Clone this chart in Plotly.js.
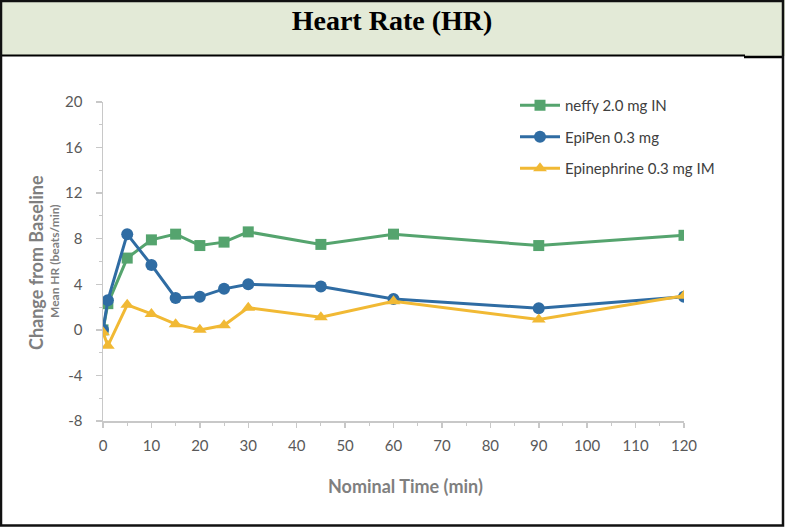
<!DOCTYPE html>
<html>
<head>
<meta charset="utf-8">
<script src="https://cdn.plot.ly/plotly-3.0.1.min.js"></script>
<style>
html,body{margin:0;padding:0;background:#fff;}
#chart{width:785px;height:528px;}
</style>
</head>
<body>
<div id="chart"></div>
<script>
const times = [0, 1, 5, 10, 15, 20, 25, 30, 45, 60, 90, 120];
const neffy = [0, 2.3, 6.3, 7.9, 8.4, 7.4, 7.7, 8.6, 7.5, 8.4, 7.4, 8.3];
const epipen = [0, 2.6, 8.4, 5.7, 2.8, 2.9, 3.6, 4.0, 3.8, 2.7, 1.9, 2.9];
const epiIM = [-0.2, -1.4, 2.2, 1.4, 0.5, 0.0, 0.4, 1.95, 1.1, 2.5, 0.9, 3.0];
const seriesNames = ["neffy 2.0 mg IN", "EpiPen 0.3 mg", "Epinephrine 0.3 mg IM"];
const yTicks = [-8, -4, 0, 4, 8, 12, 16, 20];
const xTicks = [0, 10, 20, 30, 40, 50, 60, 70, 80, 90, 100, 110, 120];

const W = 785, H = 528;
const M = {l: 103, r: 101, t: 102, b: 107};
const pw = W - M.l - M.r, ph = H - M.t - M.b;
const px = v => (v - M.l) / pw;
const py = v => (H - M.b - v) / ph;

const green = "#55a46e", blue = "#2f6ca3", yellow = "#f1b934";
const sans = "Lato, 'Open Sans', sans-serif";
const tickFont = {family: sans, size: 15, color: "#595959"};
const axisTitleColor = "#7f7f7f";

const traces = [
  {x: times, y: neffy, name: seriesNames[0], legendgroup: "a", mode: "lines+markers",
   line: {color: green, width: 3}, marker: {symbol: "square", size: 11, color: green}},
  {x: times, y: epipen, name: seriesNames[1], legendgroup: "b", mode: "lines+markers",
   line: {color: blue, width: 3}, marker: {symbol: "circle", size: 12, color: blue}},
  {x: times, y: epiIM, name: seriesNames[2], legendgroup: "c", mode: "lines+markers",
   line: {color: yellow, width: 3}, marker: {symbol: "triangle-up", size: 12, color: yellow}}
];

const layout = {
  width: W, height: H,
  margin: {l: M.l, r: M.r, t: M.t, b: M.b},
  paper_bgcolor: "#ffffff", plot_bgcolor: "#ffffff",
  showlegend: true,
  legend: {x: px(515), y: py(89), xanchor: "left", yanchor: "top",
           font: {family: sans, size: 15, color: "#404040"},
           bgcolor: "rgba(0,0,0,0)", traceorder: "grouped", tracegroupgap: 9, itemwidth: 40},
  title: {text: "<b>Heart Rate (HR)</b>", x: px(392), xref: "paper", xanchor: "center",
          y: 1 - 20 / H, yref: "container", yanchor: "middle",
          font: {family: "'Liberation Serif', 'Times New Roman', serif", size: 28, color: "#000"}},
  xaxis: {range: [0, 120], tickvals: xTicks, ticktext: xTicks.map(String),
          showgrid: false, zeroline: false, showline: true, linecolor: "#c8c8c8", linewidth: 1.5,
          ticks: "outside", ticklen: 5, tickcolor: "#c8c8c8", tickwidth: 1.5,
          minor: {dtick: 5, ticks: "outside", ticklen: 3, tickcolor: "#c8c8c8", tickwidth: 1},
          tickfont: tickFont, ticklabelstandoff: 5},
  yaxis: {range: [-8, 20], tickvals: yTicks, ticktext: yTicks.map(String),
          showgrid: false, zeroline: false, showline: true, linecolor: "#c8c8c8", linewidth: 1.5,
          ticks: "outside", ticklen: 6, tickcolor: "#c8c8c8", tickwidth: 1.5,
          minor: {dtick: 2, ticks: "outside", ticklen: 3, tickcolor: "#c8c8c8", tickwidth: 1},
          tickfont: tickFont, ticklabelstandoff: 10},
  annotations: [
    {text: "<b>Change from Baseline</b>", xref: "paper", yref: "paper", x: px(36), y: py(263),
     xanchor: "center", yanchor: "middle", textangle: -90, showarrow: false,
     font: {family: sans, size: 18, color: axisTitleColor}},
    {text: "<b>Mean HR (beats/min)</b>", xref: "paper", yref: "paper", x: px(54), y: py(261),
     xanchor: "center", yanchor: "middle", textangle: -90, showarrow: false,
     font: {family: sans, size: 12, color: axisTitleColor}},
    {text: "<b>Nominal Time (min)</b>", xref: "paper", yref: "paper", x: px(405), y: py(486),
     xanchor: "center", yanchor: "middle", showarrow: false,
     font: {family: sans, size: 18, color: axisTitleColor}}
  ],
  shapes: [
    {type: "rect", xref: "paper", yref: "paper", x0: px(0), x1: px(W), y0: py(56), y1: py(0),
     fillcolor: "#e3ead7", line: {width: 0}, layer: "below"},
    {type: "line", xref: "paper", yref: "paper", x0: px(0), x1: px(745), y0: py(55.5), y1: py(55.5),
     line: {color: "#000", width: 2}},
    {type: "line", xref: "paper", yref: "paper", x0: px(744), x1: px(783), y0: py(57), y1: py(57),
     line: {color: "#000", width: 2.5}},
    {type: "rect", xref: "paper", yref: "paper", x0: px(1), x1: px(W - 2), y0: py(H - 2.5), y1: py(1),
     line: {color: "#111", width: 2.5}}
  ]
};

Plotly.newPlot("chart", traces, layout, {displayModeBar: false, staticPlot: true});
</script>
</body>
</html>
